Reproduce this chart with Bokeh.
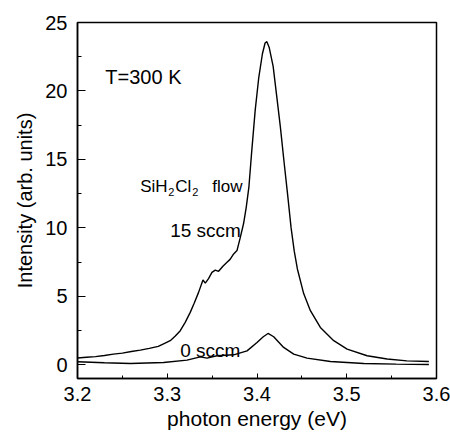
from bokeh.plotting import figure
from bokeh.models import Range1d, FixedTicker, Label
from bokeh.embed import file_html
from bokeh.resources import INLINE

# ---- data ----
energy_15 = [3.200, 3.210, 3.220, 3.230, 3.240, 3.250, 3.260, 3.270, 3.280, 3.290,
             3.2965, 3.3033, 3.309, 3.3145, 3.320, 3.3256, 3.330, 3.3349, 3.3398, 3.3424,
             3.346, 3.3498, 3.3535, 3.3572, 3.362, 3.3666, 3.370, 3.374, 3.3777, 3.381,
             3.385, 3.388, 3.391, 3.394, 3.398, 3.402, 3.406, 3.409, 3.411, 3.4135,
             3.418, 3.422, 3.426, 3.430, 3.434, 3.438, 3.4415, 3.445, 3.452, 3.4595,
             3.4706, 3.4855, 3.5004, 3.5227, 3.545, 3.567, 3.5915]
intensity_15 = [0.50, 0.55, 0.60, 0.68, 0.78, 0.85, 0.97, 1.07, 1.20, 1.35,
                1.55, 1.76, 2.10, 2.49, 3.10, 3.83, 4.50, 5.29, 6.19, 5.97,
                6.30, 6.75, 6.92, 6.83, 7.20, 7.49, 7.70, 8.10, 8.34, 9.20,
                10.3, 11.5, 13.0, 15.5, 18.6, 21.0, 22.7, 23.5, 23.6, 23.2,
                21.8, 19.6, 17.4, 14.9, 12.5, 10.0, 8.30, 7.00, 5.20, 3.95,
                2.73, 1.76, 1.15, 0.66, 0.42, 0.29, 0.24]

energy_0 = [3.200, 3.230, 3.2589, 3.2959, 3.322, 3.3368, 3.3443, 3.3554, 3.374, 3.3889,
            3.400, 3.407, 3.4123, 3.4186, 3.4297, 3.4409, 3.4558, 3.4818, 3.519, 3.555,
            3.5915]
intensity_0 = [0.22, 0.15, 0.10, 0.17, 0.34, 0.58, 0.49, 0.66, 0.73, 1.02,
               1.63, 2.05, 2.29, 2.05, 1.27, 0.78, 0.49, 0.24, 0.10, 0.05,
               0.02]

x_ticks = [3.2, 3.3, 3.4, 3.5, 3.6]
x_minor = [3.25, 3.35, 3.45, 3.55]
y_ticks = [0, 5, 10, 15, 20, 25]
y_minor = [2.5, 7.5, 12.5, 17.5, 22.5]

FONT = "Liberation Sans"

p = figure(width=450, height=433, output_backend="svg", toolbar_location=None,
           x_range=Range1d(3.2, 3.6), y_range=Range1d(-1, 25),
           min_border_left=77, min_border_right=14, min_border_top=22, min_border_bottom=55)
p.grid.visible = False
p.outline_line_color = "black"
p.outline_line_width = 1.5
p.background_fill_color = "white"
p.border_fill_color = "white"

p.line(energy_15, intensity_15, line_color="black", line_width=1.4)
p.line(energy_0, intensity_0, line_color="black", line_width=1.4)

for ax in (p.xaxis[0], p.yaxis[0]):
    ax.axis_line_color = "black"
    ax.axis_line_width = 1.5
    ax.major_tick_line_color = "black"
    ax.minor_tick_line_color = "black"
    ax.major_tick_out = 0
    ax.minor_tick_out = 0
    ax.major_label_text_font = FONT
    ax.major_label_text_font_size = "20px"
    ax.major_label_text_color = "black"
    ax.axis_label_text_font = FONT
    ax.axis_label_text_font_style = "normal"
    ax.axis_label_text_color = "black"

p.xaxis.ticker = FixedTicker(ticks=x_ticks, minor_ticks=x_minor)
p.yaxis.ticker = FixedTicker(ticks=y_ticks, minor_ticks=y_minor)
p.xaxis.major_tick_in = 5
p.xaxis.minor_tick_in = 3
p.yaxis.major_tick_in = 8
p.yaxis.minor_tick_in = 4
p.xaxis.major_label_standoff = 8
p.yaxis.major_label_standoff = 10
p.xaxis.axis_label = "photon energy (eV)"
p.yaxis.axis_label = "Intensity (arb. units)"
p.xaxis.axis_label_text_font_size = "21px"
p.yaxis.axis_label_text_font_size = "20px"
p.xaxis.axis_label_standoff = 3
p.yaxis.axis_label_standoff = 6


def lab(x, y, text, size):
    p.add_layout(Label(x=x, y=y, text=text, text_font=FONT, text_font_size=size,
                       text_color="black", text_baseline="alphabetic", text_align="left"))


lab(3.231, 21.0, "T=300 K", "20px")
lab(3.2699, 13.02, "SiH", "17px")
lab(3.3011, 12.65, "2", "11px")
lab(3.3089, 13.02, "Cl", "17px")
lab(3.3279, 12.65, "2", "11px")
lab(3.3502, 13.02, "flow", "17px")
lab(3.3033, 9.80, "15 sccm", "19px")
lab(3.3145, 1.02, "0 sccm", "19px")

open("out.html", "w").write(file_html(p, INLINE))
